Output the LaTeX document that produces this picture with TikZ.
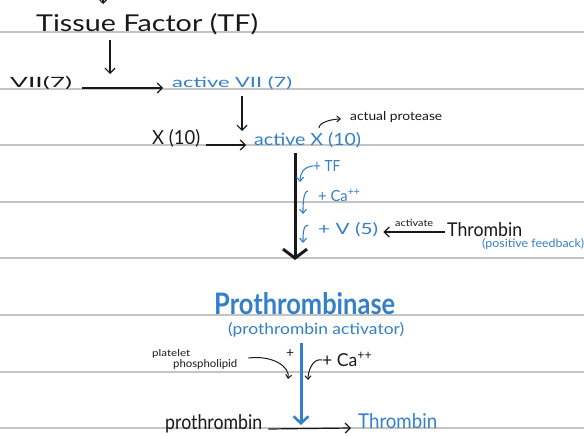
\documentclass[tikz,border=0pt]{standalone}
\usepackage{fontspec}
\setmainfont{Lato}
\usetikzlibrary{arrows.meta}
\definecolor{ink}{RGB}{25,25,25}
\definecolor{pen}{RGB}{52,128,200}
\definecolor{rule}{RGB}{196,196,196}
\newcommand{\fw}[3]{\resizebox{#1pt}{#2pt}{#3}}
\tikzset{
  lbl/.style={inner sep=0pt, anchor=base west, text=ink, font=\fontsize{20}{22}\selectfont},
  blbl/.style={lbl, text=pen},
  arr/.style={draw=ink, line width=1.2pt, -{Straight Barb[length=5pt,width=10pt,line width=1.2pt]}},
  barr/.style={draw=pen, line width=1.1pt, -{Straight Barb[length=4pt,width=7pt,line width=1.1pt]}},
  sarr/.style={draw=ink, line width=1pt, -{Straight Barb[length=3.5pt,width=6pt,line width=1pt]}},
  bigarr/.style={draw=ink, line width=3pt, -{Straight Barb[length=9pt,width=24pt,line width=3pt]}},
  bigbarr/.style={draw=pen, line width=3pt, -{Straight Barb[length=7pt,width=15pt,line width=2.5pt]}},
  ruleline/.style={draw=rule, line width=1.6pt}
}
\begin{document}
\begin{tikzpicture}[x=1pt,y=-1pt]
\useasboundingbox (0,0) rectangle (584,436);
\clip (0,0) rectangle (584,436);
\fill[white] (0,0) rectangle (584,436);
% ruled lines
\foreach \yy in {32,89,145,202,258,315,372,428}
  \draw[ruleline] (0,\yy) -- (584,\yy);
% top stray arrow
\coordinate (s1) at (103,-20);
\coordinate (s2) at (103,4);
\draw[arr] (s1) -- (s2);
% texts
\node[lbl] (tf) at (36,31) {\fw{222}{18}{Tissue Factor (TF)}};
\node[lbl] (vii) at (10,88) {\fw{62}{11}{VII(7)}};
\node[blbl] (avii) at (172,88) {\fw{120}{11}{active VII (7)}};
\node[lbl] (x) at (152,145) {\fw{48}{15}{X (10)}};
\node[blbl] (ax) at (254,145) {\fw{107}{13}{active X (10)}};
\node[lbl] (prot) at (350,120) {\fw{92}{9}{actual protease}};
\node[blbl] (ptf) at (313,171) {\fw{27}{11}{+ TF}};
\node[blbl] (pca) at (318,201) {\fw{42}{12}{+ Ca\textsuperscript{++}}};
\node[blbl] (pv) at (318,234) {\fw{60}{12}{+ V (5)}};
\node[lbl] (act) at (395,226) {\fw{38}{7}{activate}};
\node[lbl] (thr) at (447,236) {\fw{75}{14}{Thrombin}};
\node[blbl] (pf) at (482,247) {\fw{102}{9}{(positive feedback)}};
\node[blbl] (pase) at (214,314) {\fw{181}{22}{\bfseries Prothrombinase}};
\node[blbl] (pact) at (228,334) {\fw{176}{12}{(prothrombin activator)}};
\node[lbl] (plat) at (152,356) {\fw{38}{7}{platelet}};
\node[lbl] (phos) at (173,367) {\fw{64}{8}{phospholipid}};
\node[lbl] (plus) at (286,357) {\fw{8}{8}{+}};
\node[lbl] (pca2) at (322,366) {\fw{50}{14}{+ Ca\textsuperscript{++}}};
\node[lbl] (pro) at (165,429) {\fw{97}{15}{prothrombin}};
\node[blbl] (thr2) at (358,428) {\fw{79}{15}{Thrombin}};
% coordinates for connectors
\coordinate (a1) at (110,40);
\coordinate (a2) at (110,74);
\coordinate (b1) at (242,96);
\coordinate (b2) at (242,131);
\coordinate (c1) at (295,153);
\coordinate (c2) at (295,260);
\coordinate (d1) at (301,343);
\coordinate (d2) at (301,425);
\coordinate (h1) at (300,182);
\coordinate (h2) at (303,214);
\coordinate (h3) at (303,243);
\coordinate (p1) at (288,379);
\coordinate (p2) at (308,380);
% connectors
\draw[arr] (a1) -- (a2);
\draw[arr] ([xshift=10pt]vii.base east) -- ([xshift=-9pt]avii.base west);
\draw[arr] (b1) -- (b2);
\draw[arr] ([xshift=6pt]x.base east) -- ([xshift=-8pt]ax.base west);
\draw[sarr] ([xshift=-31pt,yshift=-8pt]prot.base west) .. controls +(0,-6) and +(-8,0) .. ([xshift=-9pt,yshift=1pt]prot.base west);
\draw[bigarr] (c1) -- (c2);
\draw[barr] ([yshift=5pt]ptf.base west) .. controls +(-10,1) and +(0,-8) .. (h1);
\draw[barr] ([xshift=-10pt,yshift=10pt]pca.base west) .. controls +(-5,0) and +(0,-8) .. (h2);
\draw[barr] ([xshift=-10pt,yshift=9pt]pv.base west) .. controls +(-5,0) and +(0,-8) .. (h3);
\draw[arr] ([xshift=-2pt,yshift=4pt]thr.base west) -- ([xshift=5pt,yshift=2pt]pv.base east);
\draw[bigbarr] (d1) -- (d2);
\draw[sarr] ([xshift=11pt,yshift=9pt]phos.base east) .. controls +(25,-3) and +(2,-12) .. (p1);
\draw[sarr] ([yshift=6pt]pca2.base west) .. controls +(-10,-2) and +(0,-8) .. (p2);
\draw[arr] ([xshift=6pt]pro.base east) -- ([xshift=-7pt]thr2.base west);
\end{tikzpicture}
\end{document}
